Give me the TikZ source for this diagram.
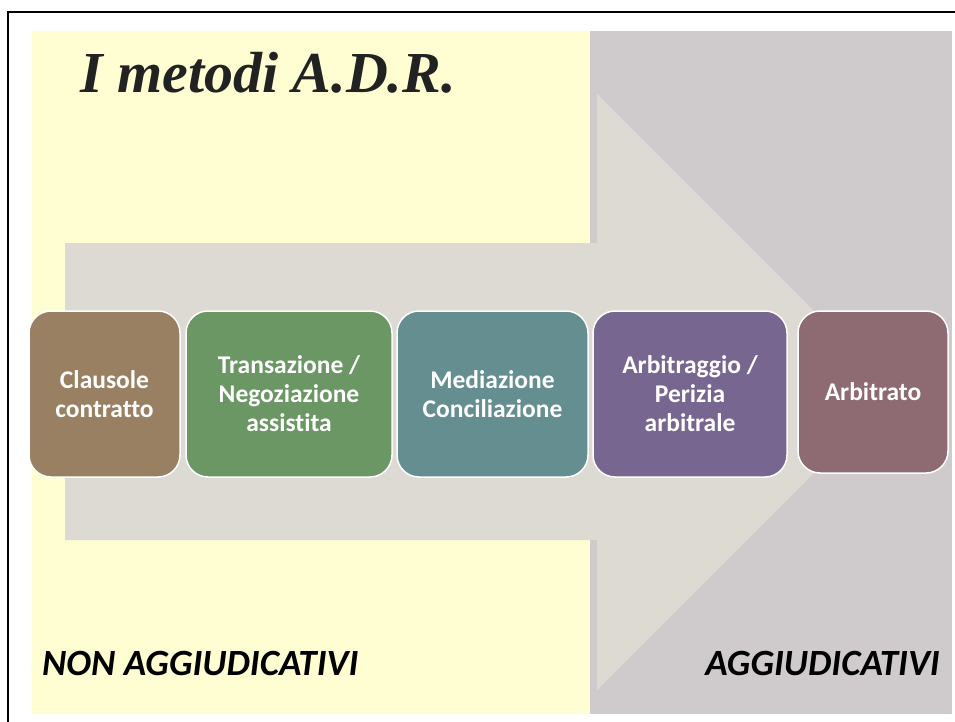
\documentclass[tikz,border=0pt]{standalone}
\usepackage{fontspec}
\setmainfont{Carlito}[Ligatures={NoCommon}]
\newfontfamily\titlefont{Liberation Serif}
\definecolor{yellowbg}{HTML}{FEFED2}
\definecolor{graybg}{HTML}{CFCBCC}
\definecolor{arrowfill}{HTML}{DDD9D3}
\definecolor{cA}{HTML}{9A8062}
\definecolor{cB}{HTML}{6B9764}
\definecolor{cC}{HTML}{648E8F}
\definecolor{cD}{HTML}{77668F}
\definecolor{cE}{HTML}{8E6A72}
\definecolor{titlecol}{HTML}{222222}
\tikzset{
  stepbox/.style={draw=white, line width=1.5pt, rounded corners=22pt, minimum height=166pt,
    align=center, text=white, font=\bfseries\fontsize{25.5}{29}\selectfont, inner sep=2pt},
  sidelabel/.style={inner sep=0pt, font=\bfseries\itshape\fontsize{37}{42}\selectfont, text=black}
}
\begin{document}
\begin{tikzpicture}[x=1pt,y=-1pt]
\useasboundingbox (0,0) rectangle (955,722);
\fill[white] (0,0) rectangle (955,722);
% backgrounds
\fill[yellowbg] (32,31) rectangle (590,714);
\fill[graybg] (590,31) rectangle (952,714);
% frame
\draw[black, line width=2.5pt] (8,730) -- (8,12) -- (962,12);
% arrow
\fill[arrowfill] (65,243) -- (597,243) -- (597,94) -- (895,392) -- (597,690) -- (597,540) -- (65,540) -- cycle;
% title
\node[anchor=base west, inner sep=0pt, text=titlecol, font=\titlefont\bfseries\itshape\fontsize{58}{64}\selectfont] (title) at (80,93) {I metodi A.D.R.};
% boxes
\node[stepbox, fill=cA, minimum width=151pt] (b1) at (104.5,394) {Clausole\\contratto};
\node[stepbox, fill=cB, minimum width=206pt] (b2) at (289,394) {Transazione /\\Negoziazione\\assistita};
\node[stepbox, fill=cC, minimum width=191pt] (b3) at (492.5,394) {Mediazione\\Conciliazione};
\node[stepbox, fill=cD, minimum width=194pt] (b4) at (690,394) {Arbitraggio /\\Perizia\\arbitrale};
\node[stepbox, fill=cE, minimum width=150pt, minimum height=162pt] (b5) at (873,392) {Arbitrato};
% labels
\node[sidelabel, anchor=base west] (nonagg) at (42,675) {NON AGGIUDICATIVI};
\node[sidelabel, anchor=base east] (agg) at (940,675) {AGGIUDICATIVI};
\end{tikzpicture}
\end{document}
